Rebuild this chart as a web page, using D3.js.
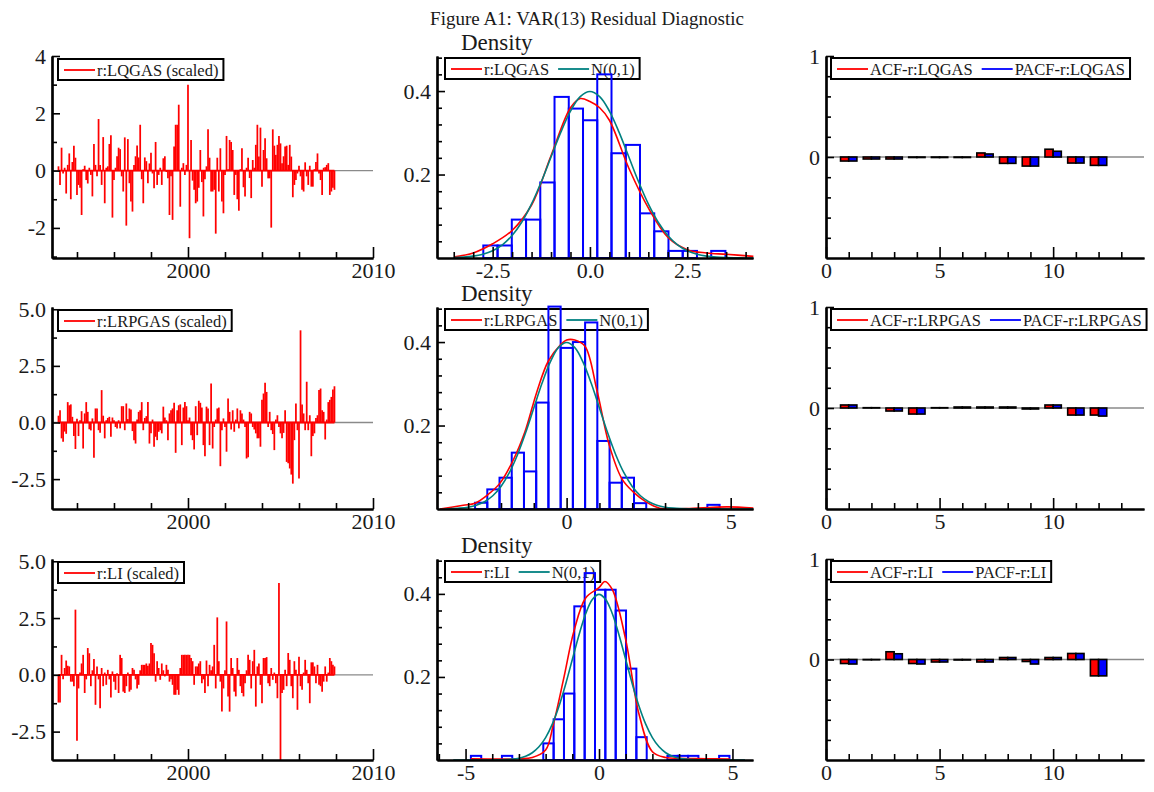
<!DOCTYPE html>
<html>
<head>
<meta charset="utf-8">
<script src="https://cdn.jsdelivr.net/npm/d3@7"></script>
<style>
  body { margin: 0; background: #fff; }
  text { font-family: "Liberation Serif", "Times New Roman", serif; fill: #1a1a1a; }
  .tick text { font-size: 22px; }
</style>
</head>
<body>
<svg id="chart" width="1154" height="792"></svg>
<script>
// ---- data: scaled residuals, monthly from 1993:1 ----
const firstYear = 1993;
const lqgas = [
  0.15, -0.5, 0.8, -0.1, 0.1, -0.8, 0.2, 0.6, -1.0, 0.3, 0.87, 0.45,
  -0.85, -0.5, -0.6, -1.55, 0.05, 0.17, -0.33, -0.45, 0.1, -0.15, -0.9, 0.93,
  0.2, -0.2, 1.8, 0.2, -0.5, 1.17, -1.14, 0.1, 0.15, 0.93, 1.23, -1.64,
  -0.33, 0.1, 0.5, 0.8, 0.75, -0.2, -0.73, 1.16, -1.92, 1.1, -0.44, -1.08,
  -1.43, 0.2, 0.5, 0.88, 0.46, 1.6, -0.3, -1.14, 0.46, 0.33, -0.44, 0.25,
  0.62, -0.1, -0.62, 1.0, -0.5, -0.15, 0.1, -0.5, 0.43, 0.5, -0.05, -0.27,
  -1.55, -0.2, -1.72, 0.84, 1.6, 1.6, 2.3, -1.26, 0.1, 0.26, -0.15, 0.2,
  3.0, -2.36, 1.07, -0.35, -0.67, -1.14, -1.08, -0.6, 0.72, -0.4, -1.6, -0.3,
  0.15, 1.44, 0.45, -0.73, -0.73, -0.67, -2.2, 0.45, -0.73, 0.78, -1.08, -1.49,
  -0.15, 1.21, 0.05, 1.07, 1.0, 0.72, -0.85, -0.15, -1.0, -1.4, 0.05, 0.78,
  -0.58, -0.9, 0.1, 0.45, -0.26, -0.96, 0.37, 0.1, 0.9, 1.6, 0.49, 1.5,
  -0.56, 0.72, 1.13, 0.43, -0.27, -0.27, -1.99, 1.44, 0.87, 0.55, 0.9, 1.21,
  0.95, 0.26, 0.5, 0.84, 0.87, 0.2, 0.9, 0.49, -0.93, -0.5, -0.33, -0.1,
  0.17, -0.2, -0.67, -0.73, 0.29, -0.2, -0.5, 0.17, -0.56, -0.56, 0.05, 0.3,
  0.6, -0.1, -0.33, -0.85, 0.1, 0.12, 0.2, 0.26, -0.85, -0.73, -0.6, -0.67
];
const lrpgas = [
  0.3, 0.54, -0.7, -0.85, -0.4, -0.5, 0.9, 0.76, 0.8, 0.25, -0.6, -1.17,
  0.17, -0.6, 0.1, 0.5, -1.15, 0.4, 0.9, 0.47, -0.3, -0.35, 0.18, -1.56,
  0.62, 0.62, -0.34, -0.45, 1.43, 0.3, -0.7, 0.1, 0.2, 0.25, -0.63, 0.22,
  0.1, -0.2, -0.27, 0.1, -0.26, 0.72, 0.72, -0.34, 0.84, 0.15, 0.62, 0.57,
  -0.38, -0.78, -0.93, 0.13, 0.47, 0.54, 0.9, -0.34, 0.2, 0.28, 0.9, -0.93,
  -0.48, 0.13, -1.07, -0.63, -0.78, -0.41, -0.34, -0.48, 0.7, 0.22, 0.1, -0.78,
  0.4, 0.54, 0.62, 0.87, -1.34, 0.54, 0.76, 0.8, -1.0, 0.66, 0.9, 0.72,
  0.1, 0.22, -0.56, -0.78, -1.19, 0.72, -0.56, 0.96, 0.87, 0.66, -1.0, -1.49,
  0.7, 0.62, -1.0, 1.72, -1.15, -0.2, 0.13, 0.62, 0.66, -1.93, -0.34, 0.18,
  -0.2, -1.29, 1.06, 0.47, -0.31, 0.54, -0.41, 0.13, 0.62, -0.26, 0.54, 0.4,
  0.13, -0.2, -1.59, -1.54, 0.47, 0.4, -0.2, -0.31, -0.48, -0.7, -0.7, -1.07,
  1.0, 1.28, 1.75, 1.35, -0.2, 0.47, -0.34, -0.51, -1.22, 0.13, 0.32, -0.2,
  -0.48, -0.7, -0.46, 0.54, -1.74, -1.8, -2.03, -2.3, -2.7, -0.78, 0.84, -0.34,
  -2.47, 4.07, 0.8, 0.4, -0.34, 1.8, -0.34, 0.32, -1.49, -0.6, -0.48, 0.2,
  0.32, 1.43, 1.5, 0.54, 0.47, -0.75, 0.13, 0.9, 1.0, 1.13, 1.46, 1.6
];
const li = [
  -1.22, -1.22, 0.88, -0.2, 0.3, 0.63, 0.4, 0.37, -0.3, -0.3, -0.5, 2.87,
  -2.9, -0.6, 0.1, 0.5, 0.88, -0.8, -0.2, 1.18, 0.95, -0.5, 0.2, 0.7,
  -1.32, 0.37, -0.2, -1.47, 0.3, -0.5, 0.1, -0.44, 0.22, -0.2, -1.0, 0.15,
  -0.3, -0.66, 0.07, -0.8, 0.88, 0.74, -0.74, -0.8, -0.5, 0.1, -0.74, -0.66,
  0.3, 0.22, -0.2, -0.6, -0.44, 0.2, 0.44, 0.44, 0.44, 0.5, 0.4, 0.5,
  1.4, 1.32, 0.95, -0.3, 0.6, 0.3, -0.22, 0.5, 0.2, -0.07, 0.44, 0.22,
  -0.3, -0.2, -0.44, -0.88, -0.88, -0.66, -0.88, 0.3, 0.88, 0.88, 0.88, 0.88,
  0.88, 0.88, 0.74, 0.6, -0.44, 0.37, 0.37, 0.5, 0.6, -0.37, -0.2, -0.8,
  0.63, -0.5, 0.44, 0.2, 0.37, 1.32, -0.6, 2.53, 0.6, -0.3, -1.62, -0.6,
  0.2, 2.35, -0.95, -1.62, 0.74, 0.3, -0.74, -0.95, 0.74, 0.22, -0.5, -0.8,
  -0.95, -0.37, 0.2, 0.88, 0.66, -0.6, 0.6, 1.1, -1.4, 0.37, 0.5, -0.44,
  -1.25, 0.74, 0.74, 0.78, -0.37, -0.5, 0.3, -0.22, 0.1, -0.37, -1.03, 4.04,
  -3.75, -0.8, -0.66, 0.22, -0.5, 0.96, 0.66, -0.5, -1.03, 0.6, 0.22, -1.54,
  0.8, -0.5, -0.66, 0.1, 0.66, 0.22, -0.37, -1.25, 0.55, 0.55, 0.37, -0.37,
  0.44, -0.44, -0.5, -0.74, -0.3, 0.37, -0.3, 0.1, 0.74, 0.6, 0.44, 0.37
];

// histograms: first bin edge, bin width, densities
const histLqgasStart = -2.74, histLqgasWidth = 0.366;
const histLqgas = [0.030, 0.030, 0.092, 0.092, 0.181, 0.386, 0.358, 0.330, 0.44, 0.251, 0.271, 0.107, 0.064, 0.017, 0.017, 0, 0.017];
const histLrpgasStart = -2.79, histLrpgasWidth = 0.3726;
const histLrpgas = [0.015, 0.047, 0.075, 0.135, 0.09, 0.255, 0.485, 0.386, 0.40, 0.447, 0.163, 0.063, 0.075, 0.014, 0, 0, 0, 0, 0, 0.01];
const histLiStart = -4.8, histLiWidth = 0.3875;
const histLi = [0.01, 0, 0, 0.01, 0, 0, 0, 0.04, 0.098, 0.16, 0.37, 0.45, 0.41, 0.41, 0.36, 0.22, 0.055, 0, 0, 0.01, 0.01, 0.01, 0, 0, 0.01];

// kernel density estimates (red)
const kdeLqgasX = [-3.47, -3.0, -2.5, -2.0, -1.5, -1.0, -0.5, -0.25, 0, 0.25, 0.5, 1.0, 1.5, 2.0, 2.5, 3.0, 3.5, 4.2];
const kdeLqgasY = [0.003, 0.012, 0.034, 0.066, 0.127, 0.245, 0.36, 0.382, 0.375, 0.36, 0.33, 0.215, 0.12, 0.05, 0.02, 0.012, 0.009, 0.004];
const kdeLrpgasX = [-3.86, -3.15, -2.79, -2.39, -2.03, -1.64, -1.27, -0.91, -0.56, -0.18, 0, 0.25, 0.56, 0.93, 1.30, 1.68, 2.03, 2.42, 2.84, 3.65, 4.47, 4.92, 5.69];
const kdeLrpgasY = [0, 0.009, 0.014, 0.035, 0.062, 0.115, 0.185, 0.28, 0.354, 0.394, 0.405, 0.405, 0.39, 0.282, 0.153, 0.073, 0.041, 0.017, 0.002, 0.001, 0.004, 0.005, 0.002];
const kdeLiX = [-4.8, -3.0, -2.5, -2.0, -1.71, -1.31, -0.94, -0.5, 0, 0.22, 0.5, 1.0, 1.5, 2.0, 2.5, 3.0, 4.0, 4.9];
const kdeLiY = [0.003, 0.003, 0.006, 0.024, 0.086, 0.2, 0.31, 0.39, 0.415, 0.43, 0.41, 0.29, 0.11, 0.02, 0.006, 0.004, 0.003, 0.002];

// N(0,1) reference curve (teal), read at quarter steps
const normX = [-4, -3.75, -3.5, -3.25, -3, -2.75, -2.5, -2.25, -2, -1.75, -1.5, -1.25, -1, -0.75, -0.5, -0.25, 0,
               0.25, 0.5, 0.75, 1, 1.25, 1.5, 1.75, 2, 2.25, 2.5, 2.75, 3, 3.25, 3.5, 3.75, 4];
const normY = [0.0001, 0.0004, 0.0009, 0.002, 0.0044, 0.0091, 0.0175, 0.0317, 0.054, 0.0863, 0.1295, 0.1826, 0.242, 0.3011, 0.3521, 0.3867, 0.3989,
               0.3867, 0.3521, 0.3011, 0.242, 0.1826, 0.1295, 0.0863, 0.054, 0.0317, 0.0175, 0.0091, 0.0044, 0.002, 0.0009, 0.0004, 0.0001];
const normSpan = [[-3.5, 4.2], [-3.7, 5.69], [-5.46, 5.47]];

// ACF / PACF, lags 1..12
const lags = [1, 2, 3, 4, 5, 6, 7, 8, 9, 10, 11, 12];
const acfLqgas  = [-0.04, -0.02, -0.02, -0.005, -0.005, -0.005, 0.04, -0.063, -0.09, 0.077, -0.06, -0.083];
const pacfLqgas = [-0.04, -0.02, -0.02, -0.005, -0.005, -0.005, 0.03, -0.063, -0.09, 0.057, -0.06, -0.083];
const acfLrpgas  = [0.03, 0.003, -0.03, -0.06, 0.003, 0.01, 0.01, 0.01, -0.01, 0.03, -0.07, -0.07];
const pacfLrpgas = [0.03, 0.003, -0.03, -0.06, 0.003, 0.01, 0.01, 0.01, -0.01, 0.03, -0.07, -0.08];
const acfLi  = [-0.04, -0.003, 0.077, -0.04, -0.025, -0.005, -0.025, 0.02, -0.02, 0.02, 0.06, -0.163];
const pacfLi = [-0.045, -0.003, 0.057, -0.045, -0.025, -0.005, -0.025, 0.02, -0.045, 0.02, 0.06, -0.163];

const names = ["r:LQGAS", "r:LRPGAS", "r:LI"];

// ---- layout ----
const svg = d3.select("#chart");
const cols = [[52, 373], [437, 753], [826, 1144]];
const rows = [[258, 56], [509, 307], [760, 559]]; // [bottom, top]
const RED = "#ff0000", BLUE = "#0000ff", TEAL = "#008080";

svg.append("text")
  .attr("x", 587).attr("y", 25)
  .attr("text-anchor", "middle")
  .style("font-size", "19px")
  .text("Figure A1: VAR(13) Residual Diagnostic");

function axes(g, x, y, xMajor, xMinor, yMajor, yMinor, fx, fy) {
  const yb = y.range()[0], xl = x.range()[0];
  g.append("g").attr("transform", `translate(0,${yb})`)
    .call(d3.axisBottom(x).tickValues(xMinor).tickSize(-6).tickSizeOuter(0).tickFormat(""));
  g.append("g").attr("transform", `translate(0,${yb})`)
    .call(d3.axisBottom(x).tickValues(xMajor).tickSize(-11).tickSizeOuter(0).tickPadding(4).tickFormat(fx));
  g.append("g").attr("transform", `translate(${xl},0)`)
    .call(d3.axisLeft(y).tickValues(yMinor).tickSize(-5).tickSizeOuter(0).tickFormat(""));
  g.append("g").attr("transform", `translate(${xl},0)`)
    .call(d3.axisLeft(y).tickValues(yMajor).tickSize(-8).tickSizeOuter(0).tickPadding(6).tickFormat(fy));
  g.selectAll(".domain").attr("stroke", "#000").attr("stroke-width", 2.2);
  g.selectAll(".tick line").attr("stroke", "#000").attr("stroke-width", 1.6);
}

function legend(g, bx, by, items) {
  const box = g.append("rect").attr("x", bx).attr("y", by).attr("height", 21)
    .attr("fill", "none").attr("stroke", "#000").attr("stroke-width", 2);
  let cx = bx + 6;
  items.forEach(it => {
    g.append("line").attr("x1", cx).attr("x2", cx + 31)
      .attr("y1", by + 11).attr("y2", by + 11)
      .attr("stroke", it.color).attr("stroke-width", 1.8);
    const t = g.append("text").attr("x", cx + 33).attr("y", by + 16.5)
      .style("font-size", "16.5px").text(it.text);
    cx = cx + 33 + t.node().getComputedTextLength() + 9;
  });
  box.attr("width", cx - 4 - bx);
}

// ---- column 1: residual series ----
const seriesList = [lqgas, lrpgas, li];
const tsYDomains = [[-3.05, 4.0], [-3.82, 5.1], [-3.75, 5.1]];
seriesList.forEach((vals, r) => {
  const g = svg.append("g");
  const top = rows[r][1], bottom = rows[r][0];
  const x = d3.scaleLinear().domain([1992.65, 2010]).range(cols[0]);
  const y = d3.scaleLinear().domain(tsYDomains[r]).range(rows[r]);
  const t = vals.map((v, i) => firstYear + i / 12);
  legend(g, cols[0][0] + 6, top + 3, [{ color: RED, text: names[r] + " (scaled)" }]);
  g.append("line").attr("x1", cols[0][0]).attr("x2", cols[0][1])
    .attr("y1", y(0)).attr("y2", y(0)).attr("stroke", "#8a8a8a").attr("stroke-width", 1.3);
  const clipId = "clipts" + r;
  g.append("clipPath").attr("id", clipId).append("rect")
    .attr("x", cols[0][0]).attr("y", top)
    .attr("width", cols[0][1] - cols[0][0]).attr("height", bottom - top);
  const pg = g.append("g").attr("clip-path", `url(#${clipId})`);
  pg.append("line").attr("x1", x(t[0])).attr("x2", x(t[t.length - 1]))
    .attr("y1", y(0)).attr("y2", y(0)).attr("stroke", RED).attr("stroke-width", 1.8);
  pg.selectAll("line.spike").data(vals).join("line").attr("class", "spike")
    .attr("x1", (d, i) => x(t[i])).attr("x2", (d, i) => x(t[i]))
    .attr("y1", y(0)).attr("y2", d => y(d))
    .attr("stroke", RED).attr("stroke-width", 1.75);
  const yMajor = r === 0 ? [-2, 0, 2, 4] : [-2.5, 0, 2.5, 5];
  const yMinor = r === 0 ? [-3, -1, 1, 3] : [-1.25, 1.25, 3.75];
  const fy = r === 0 ? (d => String(d)) : (d => d.toFixed(1));
  axes(g, x, y, [2000, 2010], [1994, 1996, 1998, 2002, 2004, 2006, 2008], yMajor, yMinor, d => String(d), fy);
});

// ---- column 2: densities ----
const hists = [histLqgas, histLrpgas, histLi];
const histStarts = [histLqgasStart, histLrpgasStart, histLiStart];
const histWidths = [histLqgasWidth, histLrpgasWidth, histLiWidth];
const kdeXs = [kdeLqgasX, kdeLrpgasX, kdeLiX];
const kdeYs = [kdeLqgasY, kdeLrpgasY, kdeLiY];
const denXDomains = [[-3.93, 4.19], [-3.95, 5.68], [-6.07, 5.77]];
const denXMajor = [[-2.5, 0, 2.5], [0, 5], [-5, 0, 5]];
const denXMinor = [[-3.5, -3, -2, -1.5, -1, -0.5, 0.5, 1, 1.5, 2, 3, 3.5, 4], [-3, -2, -1, 1, 2, 3, 4], [-6, -4, -3, -2, -1, 1, 2, 3, 4]];
const denXFmt = [d => d.toFixed(1), d => String(d), d => String(d)];

hists.forEach((h, r) => {
  const g = svg.append("g");
  const top = rows[r][1];
  const x = d3.scaleLinear().domain(denXDomains[r]).range(cols[1]);
  const y = d3.scaleLinear().domain([0, 0.484]).range(rows[r]);
  g.append("text").attr("x", cols[1][0] + 24).attr("y", top - 6)
    .style("font-size", "23px").text("Density");
  legend(g, cols[1][0] + 8, top + 2, [{ color: RED, text: names[r] }, { color: TEAL, text: "N(0,1)" }]);
  const bins = h.map((d, k) => ({ d, a: histStarts[r] + k * histWidths[r], b: histStarts[r] + (k + 1) * histWidths[r] }))
    .filter(b => b.d > 0);
  g.selectAll("rect.bin").data(bins).join("rect").attr("class", "bin")
    .attr("x", b => x(b.a)).attr("width", b => x(b.b) - x(b.a))
    .attr("y", b => y(b.d)).attr("height", b => y(0) - y(b.d))
    .attr("fill", "none").attr("stroke", BLUE).attr("stroke-width", 2);
  const line = d3.line().x(p => x(p[0])).y(p => y(p[1])).curve(d3.curveCatmullRom);
  const kde = kdeXs[r].map((v, i) => [v, kdeYs[r][i]]);
  let norm = normX.map((v, i) => [v, normY[i]])
    .filter(p => p[0] >= normSpan[r][0] && p[0] <= normSpan[r][1]);
  if (normSpan[r][0] < norm[0][0]) norm.unshift([normSpan[r][0], 0]);
  if (normSpan[r][1] > norm[norm.length - 1][0]) norm.push([normSpan[r][1], 0]);
  g.append("path").attr("d", line(kde)).attr("fill", "none").attr("stroke", RED).attr("stroke-width", 1.6);
  g.append("path").attr("d", line(norm)).attr("fill", "none").attr("stroke", TEAL).attr("stroke-width", 1.6);
  axes(g, x, y, denXMajor[r], denXMinor[r], [0.2, 0.4], [0.04, 0.08, 0.12, 0.16, 0.24, 0.28, 0.32, 0.36, 0.44, 0.48],
    denXFmt[r], d => d.toFixed(1));
});

// ---- column 3: ACF / PACF ----
const acfs = [acfLqgas, acfLrpgas, acfLi];
const pacfs = [pacfLqgas, pacfLrpgas, pacfLi];
acfs.forEach((acf, r) => {
  const g = svg.append("g");
  const top = rows[r][1];
  const x = d3.scaleLinear().domain([0, 14]).range(cols[2]);
  const y = d3.scaleLinear().domain([-1, 1]).range(rows[r]);
  legend(g, cols[2][0] + 5, top + 2, [{ color: RED, text: "ACF-" + names[r] }, { color: BLUE, text: "PACF-" + names[r] }]);
  g.append("line").attr("x1", cols[2][0]).attr("x2", cols[2][1])
    .attr("y1", y(0)).attr("y2", y(0)).attr("stroke", "#8a8a8a").attr("stroke-width", 1.3);
  const bw = 0.36;
  const bars = [];
  lags.forEach((l, i) => {
    bars.push({ a: l - bw, b: l, v: acf[i], c: RED });
    bars.push({ a: l, b: l + bw, v: pacfs[r][i], c: BLUE });
  });
  g.selectAll("rect.acf").data(bars).join("rect").attr("class", "acf")
    .attr("x", d => x(d.a)).attr("width", d => x(d.b) - x(d.a))
    .attr("y", d => Math.min(y(d.v), y(0))).attr("height", d => Math.abs(y(d.v) - y(0)))
    .attr("fill", d => d.c).attr("stroke", "#000").attr("stroke-width", 1.6);
  axes(g, x, y, [0, 5, 10], [1, 2, 3, 4, 6, 7, 8, 9, 11, 12, 13], [0, 1],
    [-0.8, -0.6, -0.4, -0.2, 0.2, 0.4, 0.6, 0.8], d => String(d), d => String(d));
});
</script>
</body>
</html>
